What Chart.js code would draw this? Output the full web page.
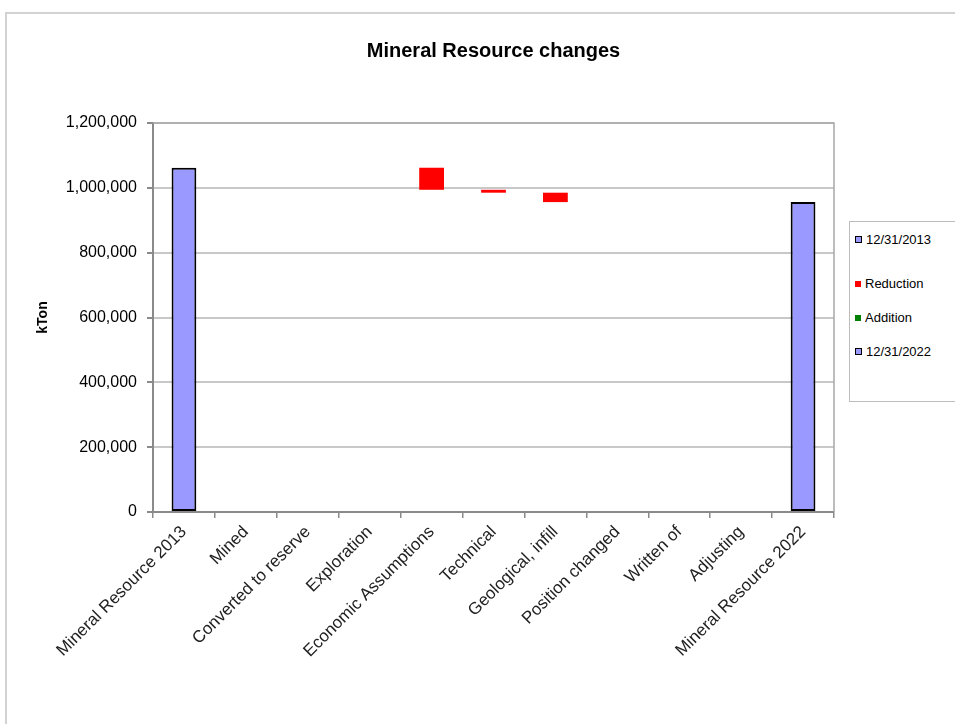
<!DOCTYPE html>
<html>
<head>
<meta charset="utf-8">
<title>Mineral Resource changes</title>
<script src="https://cdn.jsdelivr.net/npm/chart.js@4.4.1/dist/chart.umd.min.js"></script>
<style>
  body { margin: 0; background: #fff; font-family: "Liberation Sans", Arial, sans-serif; }
  #wrap { position: relative; width: 955px; height: 724px; overflow: hidden; }
  #frame {
    position: absolute; left: 5px; top: 12px; width: 1000px; height: 800px;
    border-left: 2px solid #d2d2d2; border-top: 2px solid #d2d2d2;
  }
  #chart-box { position: absolute; left: 0; top: 0; width: 955px; height: 724px; }
  #legend {
    position: absolute; left: 849px; top: 221px; width: 130px; height: 179px;
    border: 1px solid #bdbdbd; background: #fff;
  }
  #legend .item {
    position: absolute; left: 5px; height: 14px; line-height: 14px;
    font-size: 13px; color: #000; white-space: nowrap;
  }
  #legend .item:nth-child(1) { top: 11px; }
  #legend .item:nth-child(2) { top: 55px; }
  #legend .item:nth-child(3) { top: 89px; }
  #legend .item:nth-child(4) { top: 123px; }
  #legend .swatch {
    display: inline-block; width: 6px; height: 6px; margin-right: 4px;
    vertical-align: 1px; box-sizing: content-box;
  }
</style>
</head>
<body>
<div id="wrap">
  <div id="frame"></div>
  <div id="chart-box"><canvas id="resourceChart"></canvas></div>
  <div id="legend"></div>
</div>
<script>
// categories along the x axis
const categories = [
  "Mineral Resource 2013", "Mined", "Converted to reserve", "Exploration",
  "Economic Assumptions", "Technical", "Geological, infill", "Position changed",
  "Written of", "Adjusting", "Mineral Resource 2022"
];

// kTon
const opening2013 = 1062000;
const closing2022 = 956000;
const reductions = [0, 0, 0, 0, 68000, 9000, 29000, 0, 0, 0, 0];
const additions  = [0, 0, 0, 0, 0, 0, 0, 0, 0, 0, 0];

const yTicks = [0, 200000, 400000, 600000, 800000, 1000000, 1200000];

const blueFill = "#9999ff";
const font = "'Liberation Sans', Arial, sans-serif";

// waterfall: floating bars between the running totals
let running = opening2013;
const reductionBars = [];
const additionBars = [];
categories.forEach((c, i) => {
  if (i === 0 || i === categories.length - 1) {
    reductionBars.push(null);
    additionBars.push(null);
    return;
  }
  if (reductions[i]) {
    reductionBars.push([running - reductions[i], running]);
    running -= reductions[i];
  } else {
    reductionBars.push(null);
  }
  if (additions[i]) {
    additionBars.push([running, running + additions[i]]);
    running += additions[i];
  } else {
    additionBars.push(null);
  }
});

const firstOnly = categories.map((c, i) => (i === 0 ? opening2013 : null));
const lastOnly = categories.map((c, i) => (i === categories.length - 1 ? closing2022 : null));

// top and right edge of the plot area
const plotFrame = {
  id: "plotFrame",
  beforeDatasetsDraw(chart) {
    const { ctx, chartArea: a } = chart;
    ctx.save();
    ctx.strokeStyle = "#a8a8a8";
    ctx.lineWidth = 1.5;
    ctx.beginPath();
    ctx.moveTo(a.left, a.top);
    ctx.lineTo(a.right, a.top);
    ctx.lineTo(a.right, a.bottom);
    ctx.stroke();
    ctx.restore();
  }
};

const chart = new Chart(document.getElementById("resourceChart"), {
  type: "bar",
  data: {
    labels: categories,
    datasets: [
      {
        label: "12/31/2013",
        data: firstOnly,
        backgroundColor: blueFill,
        borderColor: "#000",
        borderWidth: 2,
        borderSkipped: false
      },
      {
        label: "Reduction",
        data: reductionBars,
        backgroundColor: "#ff0000",
        borderWidth: 0
      },
      {
        label: "Addition",
        data: additionBars,
        backgroundColor: "#008000",
        borderWidth: 0
      },
      {
        label: "12/31/2022",
        data: lastOnly,
        backgroundColor: blueFill,
        borderColor: "#000",
        borderWidth: 2,
        borderSkipped: false
      }
    ]
  },
  options: {
    responsive: true,
    maintainAspectRatio: false,
    animation: false,
    events: [],
    datasets: {
      bar: { grouped: false, barPercentage: 0.4, categoryPercentage: 1.0 }
    },
    layout: { padding: { left: 31, right: 121, top: 0, bottom: 0 } },
    plugins: {
      legend: { display: false },
      tooltip: { enabled: false },
      title: {
        display: true,
        text: "Mineral Resource changes",
        fullSize: false,
        color: "#000",
        font: { family: font, size: 20, weight: "bold" },
        padding: { top: 39, bottom: 60 }
      }
    },
    scales: {
      x: {
        afterFit: (scale) => { scale.height = 212; },
        grid: {
          display: true,
          drawOnChartArea: false,
          drawTicks: true,
          tickLength: 6,
          tickColor: "#8a8a8a",
          lineWidth: 1.5,
          offset: true
        },
        border: { display: true, color: "#8a8a8a", width: 2 },
        ticks: {
          autoSkip: false,
          minRotation: 45,
          maxRotation: 45,
          padding: 4,
          color: "#222",
          font: { family: font, size: 17 }
        }
      },
      y: {
        min: 0,
        max: 1200000,
        afterFit: (scale) => { scale.width = 122; },
        afterBuildTicks: (scale) => { scale.ticks = yTicks.map(v => ({ value: v })); },
        grid: { color: "#c8c8c8", lineWidth: 2, tickLength: 6, tickColor: "#8a8a8a" },
        border: { display: true, color: "#8a8a8a", width: 2 },
        ticks: {
          padding: 10,
          color: "#000",
          font: { family: font, size: 16 },
          callback: (v) => v.toLocaleString("en-US")
        },
        title: {
          display: true,
          text: "kTon",
          color: "#000",
          font: { family: font, size: 14, weight: "bold" },
          padding: { top: 4, bottom: 4 }
        }
      }
    }
  },
  plugins: [plotFrame]
});

// legend built from the chart's datasets
const legendEl = document.getElementById("legend");
chart.data.datasets.forEach((ds) => {
  const item = document.createElement("div");
  item.className = "item";
  const sw = document.createElement("span");
  sw.className = "swatch";
  sw.style.background = ds.backgroundColor;
  if (ds.borderWidth) {
    sw.style.border = "1.5px solid " + ds.borderColor;
    sw.style.width = "5px";
    sw.style.height = "5px";
  }
  item.appendChild(sw);
  item.appendChild(document.createTextNode(ds.label));
  legendEl.appendChild(item);
});
</script>
</body>
</html>
